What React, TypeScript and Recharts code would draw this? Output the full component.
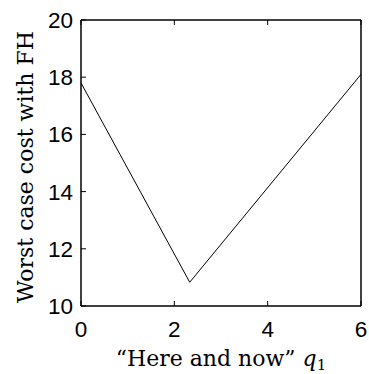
import { LineChart, Line, XAxis, YAxis } from "recharts"

const qValues = [0, 2.33, 6]
const costValues = [17.8, 10.83, 18.1]
const xTicks = [0, 2, 4, 6]
const yTicks = [10, 12, 14, 16, 18, 20]

const data = qValues.map((q, i) => ({ q, cost: costValues[i] }))

const tickFont = "'Liberation Sans', Arial, sans-serif"
const labelFont = "'DejaVu Serif', serif"
const TICK = 5

function BottomTick({ x, y, payload }: any) {
  return (
    <g>
      <line x1={x} y1={y} x2={x} y2={y - TICK} stroke="#000" />
      <text x={x} y={y + 31} textAnchor="middle" fontSize={22.5} fontFamily={tickFont} fill="#000">
        {payload.value}
      </text>
    </g>
  )
}

function TopTick({ x, y }: any) {
  return <line x1={x} y1={y} x2={x} y2={y + TICK} stroke="#000" />
}

function LeftTick({ x, y, payload }: any) {
  return (
    <g>
      <line x1={x} y1={y} x2={x + TICK} y2={y} stroke="#000" />
      <text x={x - 8} y={y + 8} textAnchor="end" fontSize={22.5} fontFamily={tickFont} fill="#000">
        {payload.value}
      </text>
    </g>
  )
}

function RightTick({ x, y }: any) {
  return <line x1={x} y1={y} x2={x - TICK} y2={y} stroke="#000" />
}

export default function App() {
  return (
    <div style={{ position: "fixed", left: 0, top: 0, background: "#fff" }}>
      <LineChart
        width={369}
        height={374}
        data={data}
        margin={{ top: 19, right: 7, bottom: 67, left: 80 }}
      >
        <XAxis
          xAxisId="bottom"
          dataKey="q"
          type="number"
          domain={[0, 6]}
          ticks={xTicks}
          height={1}
          tickSize={0}
          tickMargin={0}
          tickLine={false}
          axisLine={{ stroke: "#000", strokeWidth: 1.5 }}
          tick={<BottomTick />}
          interval={0}
          label={{
            content: () => (
              <text x={221} y={366} textAnchor="middle" fontSize={22} fontFamily={labelFont} fill="#000">
                “Here and now”{"\u00a0"}
                <tspan fontStyle="italic">q</tspan>
                <tspan fontSize={15} dy={4}>1</tspan>
              </text>
            ),
          }}
        />
        <XAxis
          xAxisId="top"
          dataKey="q"
          type="number"
          orientation="top"
          domain={[0, 6]}
          ticks={xTicks}
          height={1}
          tickSize={0}
          tickMargin={0}
          tickLine={false}
          axisLine={{ stroke: "#000", strokeWidth: 1.5 }}
          tick={<TopTick />}
          interval={0}
        />
        <YAxis
          yAxisId="left"
          type="number"
          domain={[10, 20]}
          ticks={yTicks}
          width={1}
          tickSize={0}
          tickMargin={0}
          tickLine={false}
          axisLine={{ stroke: "#000", strokeWidth: 1.5 }}
          tick={<LeftTick />}
          interval={0}
          label={{
            content: () => (
              <text
                x={0}
                y={0}
                transform="translate(33,167) rotate(-90)"
                textAnchor="middle"
                fontSize={22}
                fontFamily={labelFont}
                fill="#000"
              >
                Worst case cost with FH
              </text>
            ),
          }}
        />
        <YAxis
          yAxisId="right"
          orientation="right"
          type="number"
          domain={[10, 20]}
          ticks={yTicks}
          width={1}
          tickSize={0}
          tickMargin={0}
          tickLine={false}
          axisLine={{ stroke: "#000", strokeWidth: 1.5 }}
          tick={<RightTick />}
          interval={0}
        />
        <Line
          xAxisId="bottom"
          yAxisId="left"
          dataKey="cost"
          stroke="#000"
          strokeWidth={1}
          dot={false}
          isAnimationActive={false}
        />
      </LineChart>
    </div>
  )
}
